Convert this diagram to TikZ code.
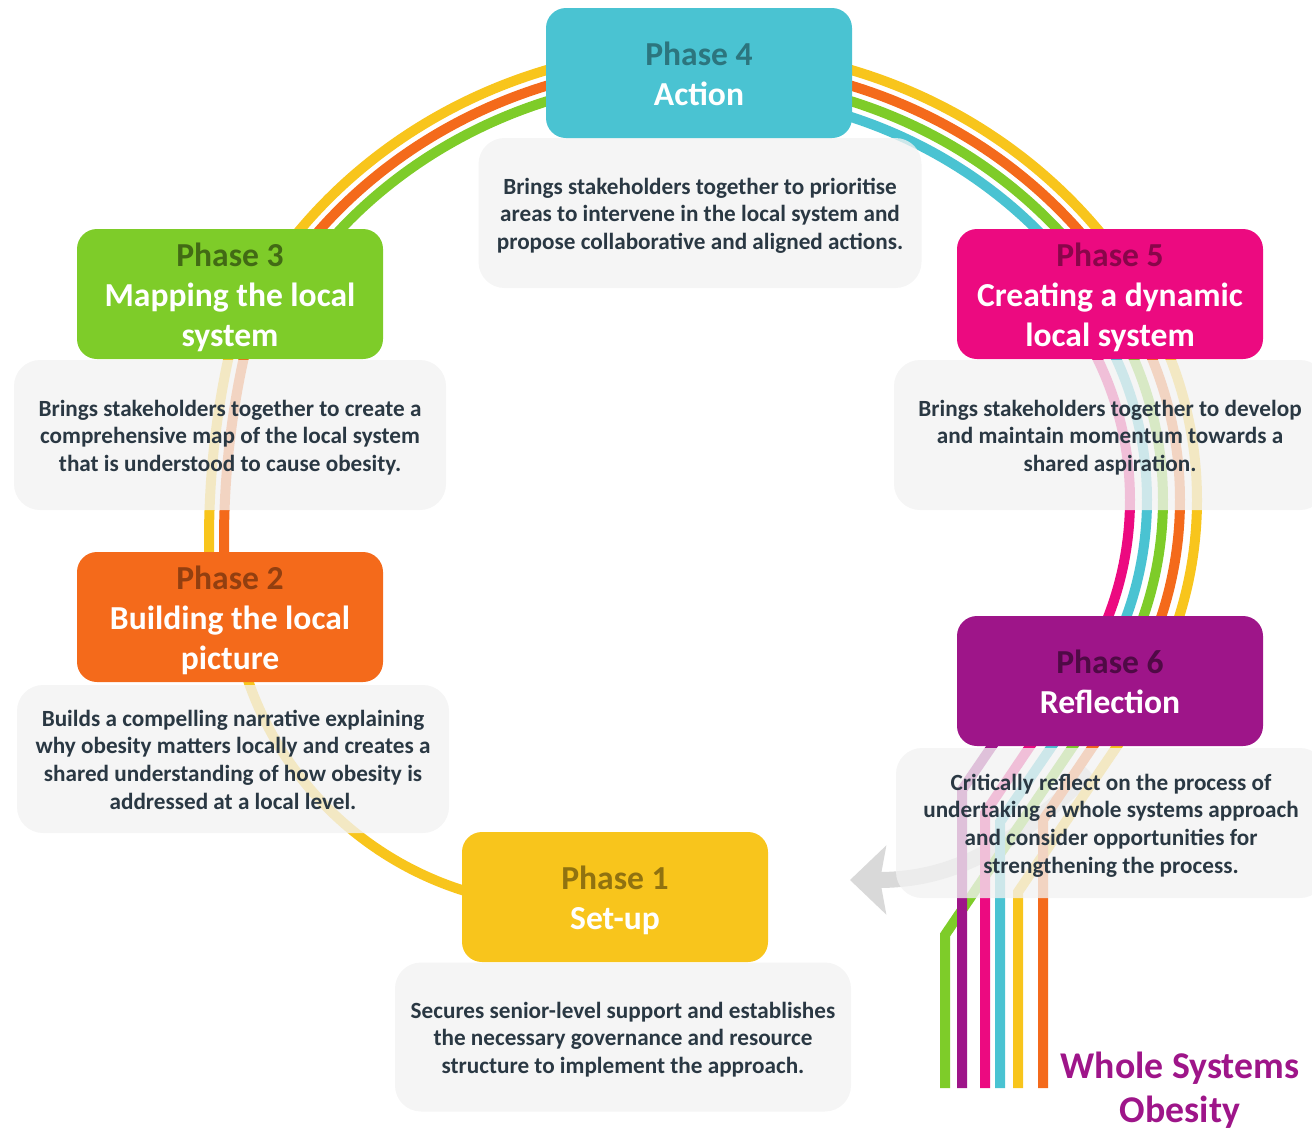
\documentclass[tikz,border=0pt]{standalone}
\usepackage{fontspec}
\setmainfont{Carlito}
\usetikzlibrary{arrows.meta}

\newlength{\du}
\setlength{\du}{0.02cm}

\definecolor{wsyellow}{HTML}{F8C51C}
\definecolor{wsorange}{HTML}{F46A1B}
\definecolor{wsgreen}{HTML}{7ECC29}
\definecolor{wscyan}{HTML}{4AC3D2}
\definecolor{wspink}{HTML}{EC0A80}
\definecolor{wspurple}{HTML}{9E1589}
\definecolor{wsgrey}{HTML}{F2F2F2}
\definecolor{wstext}{HTML}{2A3843}
\definecolor{wsarrow}{HTML}{D9D9D9}

% struts for the first and the last line of a box
\newcommand{\wsup}{\rule{0pt}{1.02em}}
\newcommand{\wsdown}{\rule[-0.25em]{0pt}{0.25em}}

\tikzset{
  phasebox/.style={rounded corners=20\du, minimum width=306\du, minimum height=130\du,
    align=center, inner sep=0pt, text=white, font=\bfseries\fontsize{19.1}{22.8}\selectfont},
  descbox/.style={rounded corners=26\du, fill=wsgrey, fill opacity=0.78, text opacity=1,
    text=wstext, align=center, inner sep=0pt, font=\bfseries\fontsize{13.2}{15.9}\selectfont},
  band/.style={line width=10\du},
  backarrow/.style={wsarrow, line width=16\du, -{Stealth[length=0.72cm, width=1.36cm, inset=0.12cm]}},
}

\begin{document}
\begin{tikzpicture}
\pgftransformxscale{1.000000}
\pgftransformyscale{-1.000000}
\useasboundingbox (0\du,0\du) rectangle (1312\du,1130\du);

% grey arrow back to the start
\coordinate (backfrom) at (1090\du,772\du);
\coordinate (backto) at (850\du,880\du);
\draw[backarrow] (backfrom) .. controls (1010\du,850\du) and (950\du,880\du) .. (backto);

% centres of the bands
\coordinate (ringlow) at (564\du,572\du);
\coordinate (ringleft) at (1071\du,540\du);
\coordinate (ringright) at (807\du,500\du);

% phase 1 -> phase 2
\draw[band, wsyellow] (ringlow) ++(165:334\du) arc[start angle=165, end angle=100, radius=334\du];
% phase 2 -> phase 3
\draw[band, wsyellow] (ringleft) ++(194:862\du) arc[start angle=194, end angle=177, radius=862\du];
\draw[band, wsorange] (ringleft) ++(194:847\du) arc[start angle=194, end angle=177, radius=847\du];
% phase 3 -> phase 4 -> phase 5, ellipse round (699,530)
\draw[band, wsyellow] (276.2\du,260.5\du) arc[start angle=-146, end angle=-34, x radius=510\du, y radius=482\du];
\draw[band, wsorange] (288.6\du,268.9\du) arc[start angle=-146, end angle=-34, x radius=495\du, y radius=467\du];
\draw[band, wsgreen] (301.1\du,277.2\du) arc[start angle=-146, end angle=-34, x radius=480\du, y radius=452\du];
\draw[band, wscyan] (779.7\du,99.6\du) arc[start angle=-80, end angle=-34, x radius=465\du, y radius=437\du];
% phase 5 -> phase 6
\draw[band, wsyellow] (ringright) ++(-30:390\du) arc[start angle=-30, end angle=28, radius=390\du];
\draw[band, wsorange] (ringright) ++(-30:373\du) arc[start angle=-30, end angle=28, radius=373\du];
\draw[band, wsgreen] (ringright) ++(-30:356\du) arc[start angle=-30, end angle=28, radius=356\du];
\draw[band, wscyan] (ringright) ++(-30:340\du) arc[start angle=-30, end angle=28, radius=340\du];
\draw[band, wspink] (ringright) ++(-30:323\du) arc[start angle=-30, end angle=28, radius=323\du];
% out of phase 6
\coordinate (legendfoot) at (945\du,1088\du);
\draw[band, wsgreen] (1084\du,730\du) -- (945\du,935\du) -- (legendfoot);
\draw[band, wsyellow] (1128\du,730\du) -- (1018\du,892\du) -- (1018\du,1088\du);
\draw[band, wsorange] (1104\du,730\du) -- (1043\du,820\du) -- (1043\du,1088\du);
\draw[band, wspurple] (1003\du,730\du) -- (962\du,790\du) -- (962\du,1088\du);
\draw[band, wspink] (1041\du,730\du) -- (985\du,813\du) -- (985\du,1088\du);
\draw[band, wscyan] (1063\du,730\du) -- (1000\du,822\du) -- (1000\du,1088\du);

% grey text panels
\node[descbox, minimum width=456\du, minimum height=149\du] (setuptext) at (623\du,1037\du)
  {\wsup Secures senior-level support and establishes\\the necessary governance and resource\\structure to implement the approach.\wsdown};
\node[descbox, minimum width=432\du, minimum height=148\du] (picturetext) at (233\du,759\du)
  {\wsup Builds a compelling narrative explaining\\why obesity matters locally and creates a\\shared understanding of how obesity is\\addressed at a local level.\wsdown};
\node[descbox, minimum width=432\du, minimum height=150\du] (mappingtext) at (230\du,435\du)
  {\wsup Brings stakeholders together to create a\\comprehensive map of the local system\\that is understood to cause obesity.\wsdown};
\node[descbox, minimum width=443\du, minimum height=150\du] (actiontext) at (700\du,213\du)
  {\wsup Brings stakeholders together to prioritise\\areas to intervene in the local system and\\propose collaborative and aligned actions.\wsdown};
\node[descbox, minimum width=432\du, minimum height=150\du] (dynamictext) at (1110\du,435\du)
  {\wsup Brings stakeholders together to develop\\and maintain momentum towards a\\shared aspiration.\wsdown};
\node[descbox, minimum width=430\du, minimum height=150\du] (reflecttext) at (1111\du,823\du)
  {\wsup Critically reflect on the process of\\undertaking a whole systems approach\\and consider opportunities for\\strengthening the process.\wsdown};

% phase boxes
\node[phasebox, fill=wsyellow] (setup) at (615\du,897\du)
  {\wsup\textcolor{wsyellow!58!black}{Phase 1}\\Set-up\wsdown};
\node[phasebox, fill=wsorange] (picture) at (230\du,617\du)
  {\wsup\textcolor{wsorange!60!black}{Phase 2}\\Building the local\\picture\wsdown};
\node[phasebox, fill=wsgreen] (mapping) at (230\du,294\du)
  {\wsup\textcolor{wsgreen!52!black}{Phase 3}\\Mapping the local\\system\wsdown};
\node[phasebox, fill=wscyan] (action) at (699\du,73\du)
  {\wsup\textcolor{wscyan!60!black}{Phase 4}\\Action\wsdown};
\node[phasebox, fill=wspink] (dynamic) at (1110\du,294\du)
  {\wsup\textcolor{wspink!58!black}{Phase 5}\\Creating a dynamic\\local system\wsdown};
\node[phasebox, fill=wspurple] (reflect) at (1110\du,681\du)
  {\wsup\textcolor{wspurple!50!black}{Phase 6}\\Reflection\wsdown};

% setfont left to latex
\node[font=\bfseries\fontsize{21.5}{25}\selectfont, text=wspurple, align=center] (wsotitle) at (1180\du,1090\du)
  {Whole Systems\\Obesity};
\end{tikzpicture}
\end{document}
